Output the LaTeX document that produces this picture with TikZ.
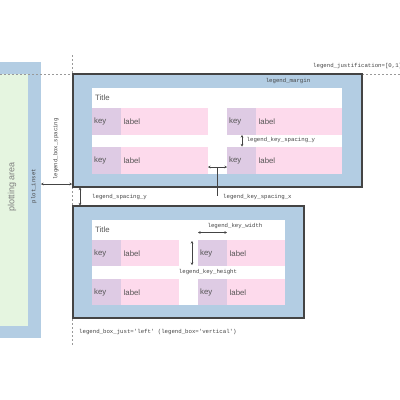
\documentclass[tikz,border=0pt]{standalone}
\usepackage{fontspec}
\newfontfamily\sansf{Liberation Sans}
\newfontfamily\monof{Liberation Mono}
\usetikzlibrary{arrows.meta}
\definecolor{lblue}{HTML}{B3CDE3}
\definecolor{lgreen}{HTML}{E5F5E0}
\definecolor{lpink}{HTML}{FDDAEC}
\definecolor{lpurple}{HTML}{DECBE4}
\definecolor{dgray}{HTML}{444444}
\definecolor{tgray}{HTML}{555555}
\begin{document}
\begin{tikzpicture}[x=1pt,y=-1pt,
  guide/.style={draw=gray!80,line width=0.8pt,dash pattern=on 2pt off 2pt},
  legbox/.style={fill=lblue,draw=dgray,line width=1.4pt},
  keybox/.style={fill=lpurple},
  labbox/.style={fill=lpink},
  sanstxt/.style={font=\sansf\fontsize{7.8}{9}\selectfont,text=tgray,inner sep=0pt,anchor=west},
  monotxt/.style={font=\monof\fontsize{5.7}{7}\selectfont,text=dgray,inner sep=0pt},
  dim/.style={draw=dgray,line width=0.6pt,{Stealth[length=2.5pt,width=2.5pt]}-{Stealth[length=2.5pt,width=2.5pt]}},
  plainln/.style={draw=dgray,line width=0.6pt}
]
\useasboundingbox (0,0) rectangle (400,400);
\fill[white] (0,0) rectangle (400,400);
% plotting area
\fill[lblue] (0,62) rectangle (41,338);
\fill[lgreen] (0,74) rectangle (28,326);
\node[rotate=90,font=\sansf\fontsize{9}{10}\selectfont,text=gray,inner sep=0pt] (pa) at (12,187) {plotting area};
\node[rotate=90,monotxt] (pi) at (34,186) {plot\_inset};
% guides
\draw[guide] (0,74) -- (72.5,74);
\draw[guide] (362,74) -- (400,74);
\draw[guide] (72.5,55) -- (72.5,345);
% legend 1
\draw[legbox] (73,74) rectangle (362,187);
\fill[white] (92,88) rectangle (342,174);
\foreach \y in {108,147}{
  \fill[keybox] (92,\y) rectangle (121,\y+26.5);
  \fill[labbox] (121,\y) rectangle (207.5,\y+26.5);
  \fill[keybox] (227,\y) rectangle (256,\y+26.5);
  \fill[labbox] (256,\y) rectangle (342,\y+26.5);
  \node[sanstxt] at (94,\y+13.5) {key};
  \node[sanstxt] at (123.5,\y+13.5) {label};
  \node[sanstxt] at (229,\y+13.5) {key};
  \node[sanstxt] at (258.5,\y+13.5) {label};
}
\node[sanstxt] (t1) at (95,97.5) {Title};
\node[monotxt] (lm) at (288,81.5) {legend\_margin};
\node[monotxt,anchor=west] (lj) at (313,66) {legend\_justification=[0,1]};
% key spacing y
\coordinate (ksy1) at (242,135);
\coordinate (ksy2) at (242,146.5);
\draw[dim] (ksy1) -- (ksy2);
\node[monotxt,anchor=west] (ksyt) at (246.5,140.5) {legend\_key\_spacing\_y};
% key spacing x
\coordinate (ksx1) at (208,167);
\coordinate (ksx2) at (227,167);
\coordinate (ksxm) at (217,167);
\coordinate (ksxb) at (217,196);
\draw[dim] (ksx1) -- (ksx2);
\draw[plainln] (ksxm) -- (ksxb);
\node[monotxt,anchor=west] (ksxt) at (223,197.5) {legend\_key\_spacing\_x};
% box spacing
\coordinate (bs1) at (41,184);
\coordinate (bs2) at (72,184);
\draw[dim] (bs1) -- (bs2);
\node[rotate=90,monotxt] (bst) at (56,149) {legend\_box\_spacing};
% spacing y
\coordinate (sy1) at (80,187.5);
\coordinate (sy2) at (80,205.5);
\draw[dim] (sy1) -- (sy2);
\node[monotxt,anchor=west] (syt) at (92,197) {legend\_spacing\_y};
% legend 2
\draw[legbox] (73,206) rectangle (304,318);
\fill[white] (92,220) rectangle (285,305);
\foreach \y in {240,279}{
  \fill[keybox] (92,\y) rectangle (121,\y+26);
  \fill[labbox] (121,\y) rectangle (179,\y+26);
  \fill[keybox] (198,\y) rectangle (227,\y+26);
  \fill[labbox] (227,\y) rectangle (285,\y+26);
  \node[sanstxt] at (94,\y+13.5) {key};
  \node[sanstxt] at (123.5,\y+13.5) {label};
  \node[sanstxt] at (200,\y+13.5) {key};
  \node[sanstxt] at (229.5,\y+13.5) {label};
}
\node[sanstxt] (t2) at (95,229.5) {Title};
% key height
\coordinate (kh1) at (192,241);
\coordinate (kh2) at (192,265);
\draw[dim] (kh1) -- (kh2);
\node[monotxt] (kht) at (208,272) {legend\_key\_height};
% key width
\coordinate (kw1) at (198,232.5);
\coordinate (kw2) at (227,232.5);
\draw[dim] (kw1) -- (kw2);
\node[monotxt] (kwt) at (235,226) {legend\_key\_width};
% box just
\node[monotxt,anchor=west] (bj) at (79,332) {legend\_box\_just='left' (legend\_box='vertical')};
\end{tikzpicture}
\end{document}
